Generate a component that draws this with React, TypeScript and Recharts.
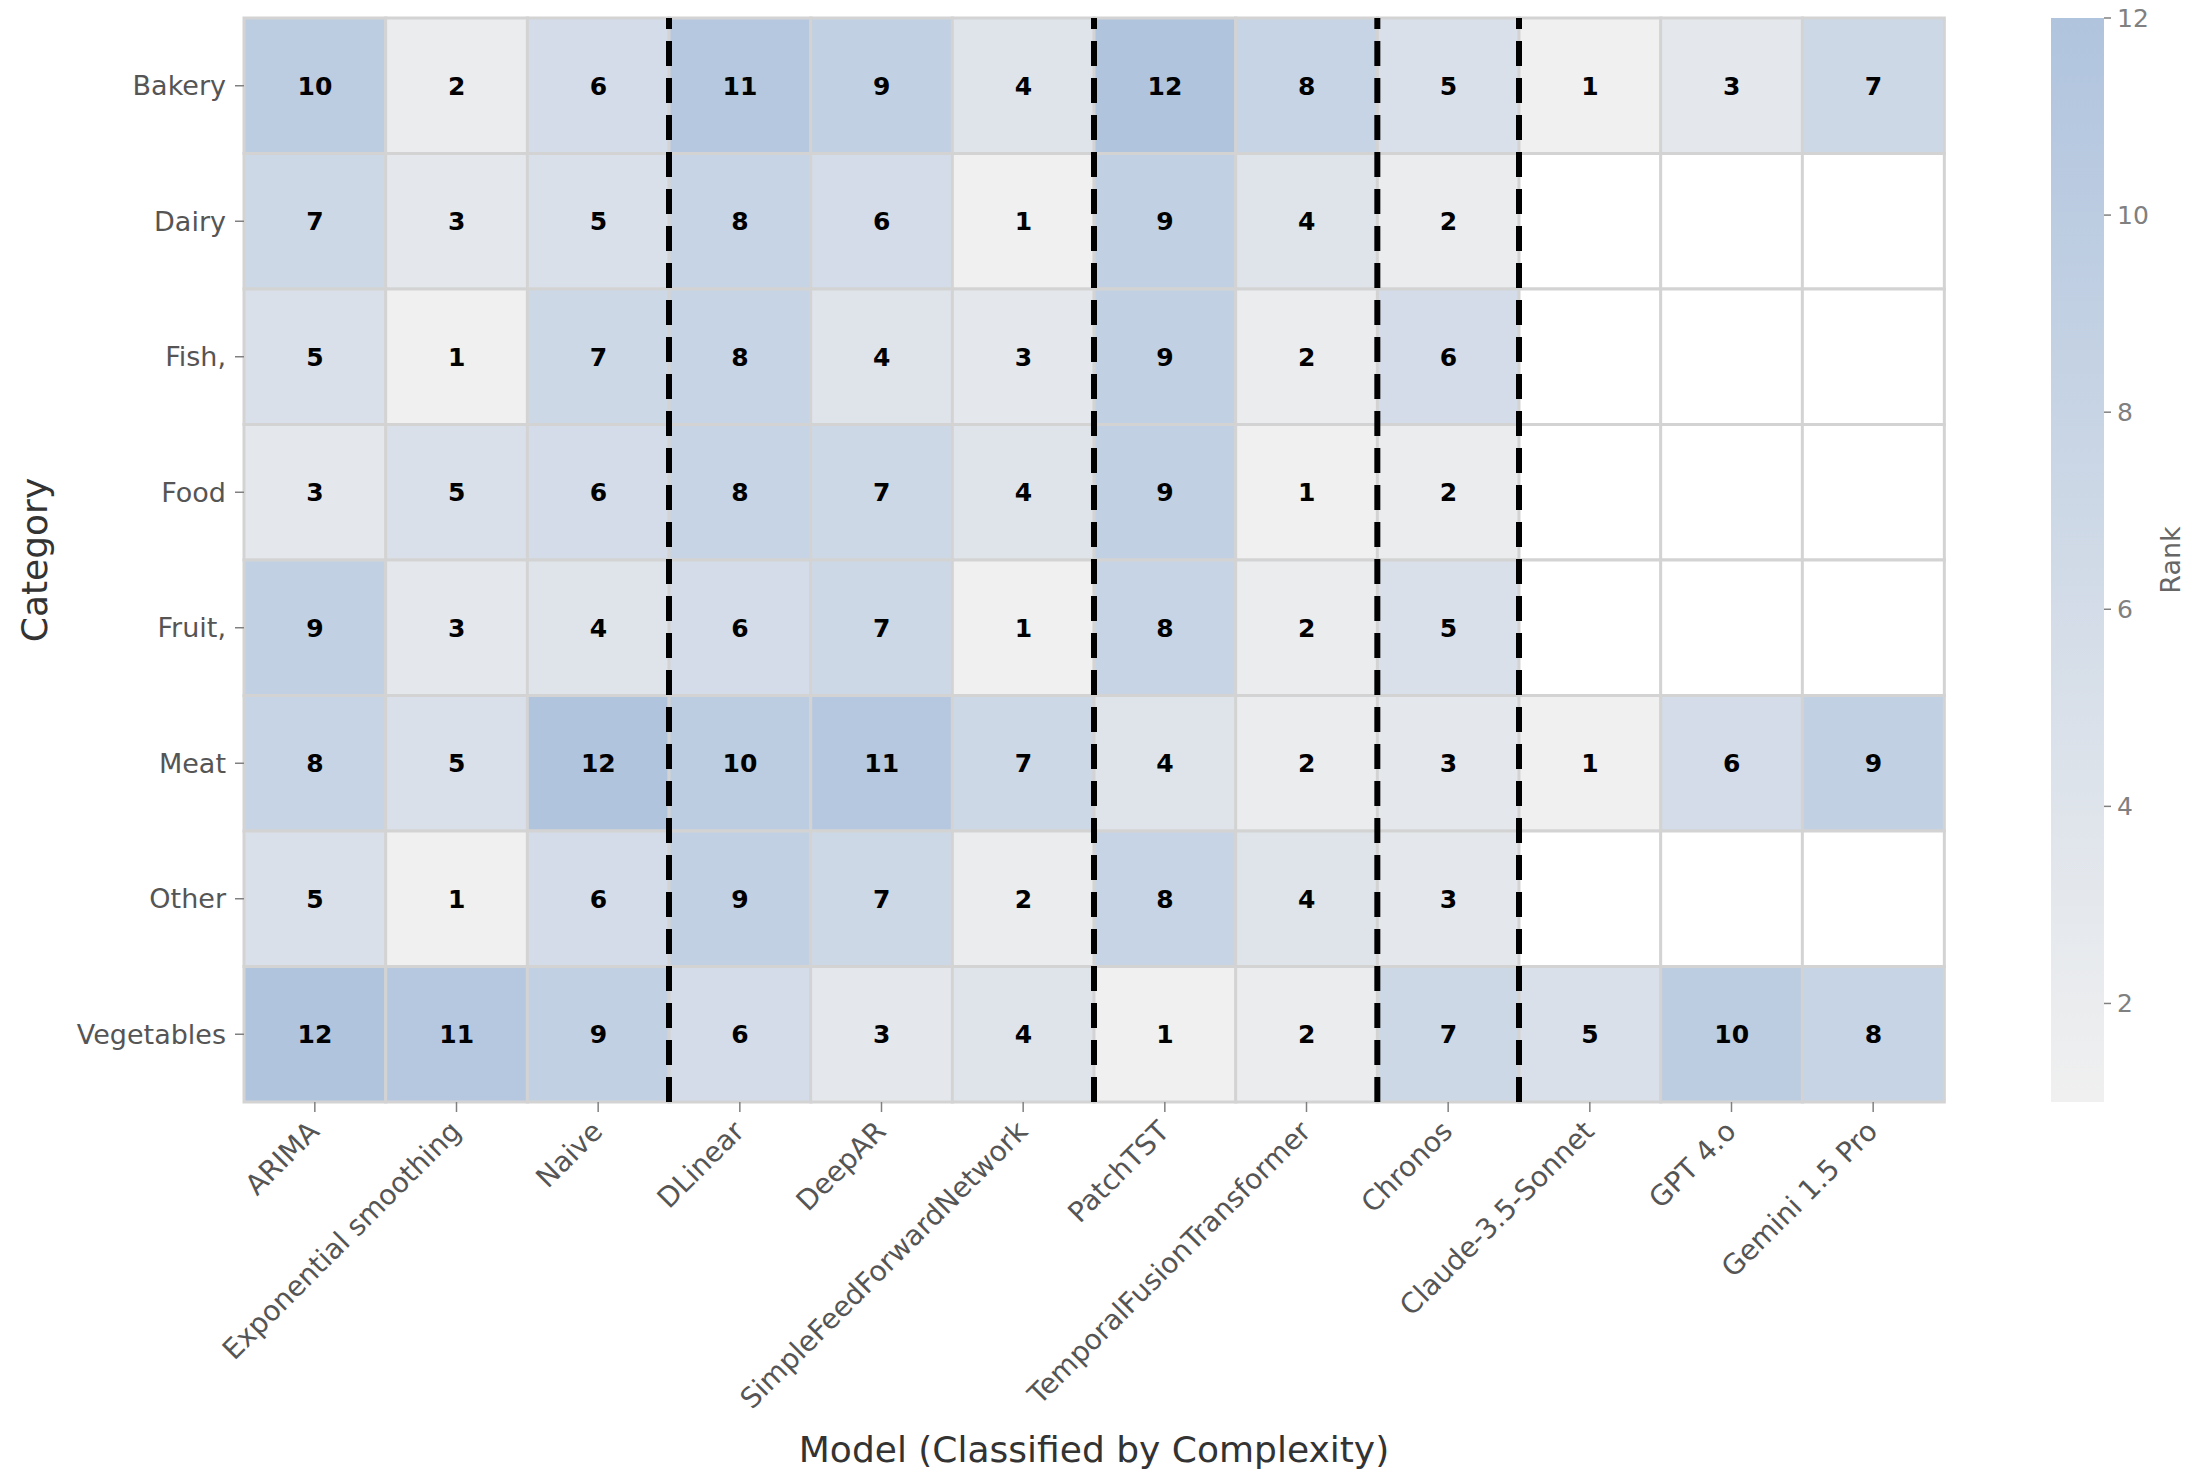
import { ComposedChart, BarChart, Bar, XAxis, YAxis, Cell, LabelList, ReferenceLine, Label } from 'recharts'

const MODELS = [
  'ARIMA',
  'Exponential smoothing',
  'Naive',
  'DLinear',
  'DeepAR',
  'SimpleFeedForwardNetwork',
  'PatchTST',
  'TemporalFusionTransformer',
  'Chronos',
  'Claude-3.5-Sonnet',
  'GPT 4.o',
  'Gemini 1.5 Pro',
]

const CATEGORIES = ['Bakery', 'Dairy', 'Fish,', 'Food', 'Fruit,', 'Meat', 'Other', 'Vegetables']

// rank per category (rows) and model (columns); null = no result
const BAKERY = [10, 2, 6, 11, 9, 4, 12, 8, 5, 1, 3, 7]
const DAIRY = [7, 3, 5, 8, 6, 1, 9, 4, 2, null, null, null]
const FISH = [5, 1, 7, 8, 4, 3, 9, 2, 6, null, null, null]
const FOOD = [3, 5, 6, 8, 7, 4, 9, 1, 2, null, null, null]
const FRUIT = [9, 3, 4, 6, 7, 1, 8, 2, 5, null, null, null]
const MEAT = [8, 5, 12, 10, 11, 7, 4, 2, 3, 1, 6, 9]
const OTHER = [5, 1, 6, 9, 7, 2, 8, 4, 3, null, null, null]
const VEGETABLES = [12, 11, 9, 6, 3, 4, 1, 2, 7, 5, 10, 8]

const RANKS = [BAKERY, DAIRY, FISH, FOOD, FRUIT, MEAT, OTHER, VEGETABLES]

// first model of each new complexity group -> dashed separator on its left edge
const GROUP_STARTS = ['DLinear', 'PatchTST', 'Chronos', 'Claude-3.5-Sonnet']

const RANK_MIN = 1
const RANK_MAX = 12
const COLORBAR_TICKS = [2, 4, 6, 8, 10, 12]

const LOW = [240, 240, 240]
const HIGH = [176, 196, 222]

function colorFor(v: number | null) {
  if (v == null) return '#ffffff'
  const t = (v - RANK_MIN) / (RANK_MAX - RANK_MIN)
  const c = LOW.map((l, i) => Math.round(l + (HIGH[i] - l) * t))
  return `rgb(${c[0]},${c[1]},${c[2]})`
}

const FONT = '"DejaVu Sans", sans-serif'

const chartData = MODELS.map((model, mi) => {
  const row: Record<string, any> = { model }
  CATEGORIES.forEach((cat, ci) => {
    row[`cell_${ci}`] = 1
    row[`rank_${ci}`] = RANKS[ci][mi]
  })
  return row
})

const XTick = ({ x, y, payload }: any) => (
  <g transform={`translate(${x + 6},${y + 19}) rotate(-45)`}>
    <text textAnchor="end" fontSize={28} fill="#555" fontFamily={FONT}>
      {payload.value}
    </text>
  </g>
)

export default function App() {
  return (
    <div style={{ position: 'absolute', left: 0, top: 0, width: 2210, height: 1474, background: '#fff' }}>
      <div style={{ position: 'absolute', left: 0, top: 0 }}>
        <ComposedChart
          width={2000}
          height={1474}
          data={chartData}
          margin={{ top: 18, right: 56, left: 14, bottom: 72 }}
          barCategoryGap={0}
          barGap={0}
        >
          <XAxis
            dataKey="model"
            interval={0}
            height={300}
            tickSize={10}
            axisLine={false}
            tickLine={{ stroke: '#808080', strokeWidth: 1.5 }}
            tick={<XTick />}
          >
            <Label
              content={({ viewBox }: any) => (
                <text
                  x={viewBox.x + viewBox.width / 2}
                  y={viewBox.y + 360}
                  textAnchor="middle"
                  fontSize={36}
                  fill="#333"
                  fontFamily={FONT}
                >
                  Model (Classified by Complexity)
                </text>
              )}
            />
          </XAxis>
          <YAxis
            type="number"
            domain={[0, CATEGORIES.length]}
            reversed
            width={230}
            ticks={CATEGORIES.map((_, i) => i + 0.5)}
            tickFormatter={(v: number) => CATEGORIES[Math.floor(v)]}
            interval={0}
            tickSize={9}
            tickMargin={9}
            axisLine={false}
            tickLine={{ stroke: '#808080', strokeWidth: 1.5 }}
            tick={{ fontSize: 27, fill: '#555', fontFamily: FONT }}
          >
            <Label
              content={({ viewBox }: any) => (
                <text
                  x={0}
                  y={0}
                  transform={`translate(${viewBox.x + 33},${viewBox.y + viewBox.height / 2}) rotate(-90)`}
                  textAnchor="middle"
                  fontSize={36}
                  fill="#333"
                  fontFamily={FONT}
                >
                  Category
                </text>
              )}
            />
          </YAxis>
          {CATEGORIES.map((cat, ci) => (
            <Bar key={cat} dataKey={`cell_${ci}`} stackId="heat" isAnimationActive={false}>
              {chartData.map((row, mi) => (
                <Cell
                  key={`c-${ci}-${mi}`}
                  fill={colorFor(row[`rank_${ci}`])}
                  stroke="#d3d3d3"
                  strokeWidth={3}
                />
              ))}
              <LabelList
                dataKey={`rank_${ci}`}
                position="center"
                formatter={(v: any) => (v == null ? '' : v)}
                fill="#000"
                fontSize={25}
                fontWeight="bold"
                fontFamily={FONT}
              />
            </Bar>
          ))}
          {GROUP_STARTS.map((m) => (
            <ReferenceLine
              key={m}
              x={m}
              position="start"
              stroke="#000"
              strokeWidth={6}
              strokeDasharray="25 12"
            />
          ))}
        </ComposedChart>
      </div>
      <div style={{ position: 'absolute', left: 1990, top: 0 }}>
        <BarChart
          width={220}
          height={1474}
          data={[{ name: 'rank', range: [RANK_MIN, RANK_MAX] }]}
          margin={{ top: 18, right: 26, left: 61, bottom: 372 }}
          barCategoryGap={0}
        >
          <defs>
            <linearGradient id="rankGrad" x1="0" y1="0" x2="0" y2="1">
              <stop offset="0%" stopColor={colorFor(RANK_MAX)} />
              <stop offset="100%" stopColor={colorFor(RANK_MIN)} />
            </linearGradient>
          </defs>
          <XAxis dataKey="name" hide />
          <YAxis
            orientation="right"
            type="number"
            domain={[RANK_MIN, RANK_MAX]}
            ticks={COLORBAR_TICKS}
            width={80}
            tickSize={7}
            tickMargin={6}
            axisLine={false}
            tickLine={{ stroke: '#808080', strokeWidth: 1.5 }}
            tick={{ fontSize: 25, fill: '#808080', fontFamily: FONT, textAnchor: 'start' }}
          >
            <Label
              content={({ viewBox }: any) => (
                <text
                  x={0}
                  y={0}
                  transform={`translate(${viewBox.x + 76},${viewBox.y + viewBox.height / 2}) rotate(-90)`}
                  textAnchor="middle"
                  fontSize={27}
                  fill="#666"
                  fontFamily={FONT}
                >
                  Rank
                </text>
              )}
            />
          </YAxis>
          <Bar dataKey="range" fill="url(#rankGrad)" isAnimationActive={false} />
        </BarChart>
      </div>
    </div>
  )
}
